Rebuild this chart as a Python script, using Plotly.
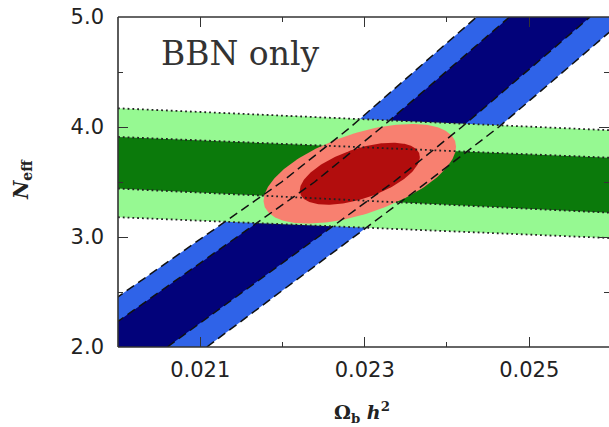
import numpy as np
import plotly.graph_objects as go

# ---------------- data ----------------
# BBN (D/H) band: omega_b of each edge at these N_eff levels
band_neff = [2.0, 3.0, 3.5, 4.0, 5.0]
blue_2s_left = [0.01913, 0.02103, 0.02199, 0.02283, 0.02436]
blue_1s_left = [0.01956, 0.02145, 0.02239, 0.02321, 0.02476]
blue_1s_right = [0.02060, 0.02243, 0.02335, 0.02418, 0.02574]
blue_2s_right = [0.02108, 0.02287, 0.02376, 0.02463, 0.02619]

# Helium band: N_eff of each edge at these omega_b values
green_omega = [0.020, 0.026]
green_2s_top = [4.17, 3.97]
green_1s_top = [3.91, 3.72]
green_1s_bot = [3.44, 3.22]
green_2s_bot = [3.18, 2.99]

# Joint constraint ellipse: centre, half extents (1 and 2 sigma), correlation
ell_center = [0.02294, 3.575]
ell_half_1s = [0.00073, 0.282]
ell_half_2s = [0.00117, 0.453]
ell_rho = 0.54

x_range = [0.020, 0.02597]
y_range = [2.0, 5.0]
x_ticks = [0.021, 0.023, 0.025]
y_ticks = [2.0, 3.0, 4.0, 5.0]

# ---------------- colours ----------------
NAVY = "#02027a"
LBLUE = "#2f63e8"
DGREEN = "#0b7a0b"
LGREEN = "#96f992"
SALMON = "#f88070"
DRED = "#b20d0d"

fig = go.Figure()


def band_v(left, right, color):
    xs = list(left) + list(right)[::-1]
    ys = list(band_neff) + list(band_neff)[::-1]
    fig.add_trace(go.Scatter(x=xs, y=ys, fill="toself", fillcolor=color,
                             mode="lines", line=dict(width=0), hoverinfo="skip",
                             showlegend=False))


def band_h(top, bot, color):
    xs = list(green_omega) + list(green_omega)[::-1]
    ys = list(top) + list(bot)[::-1]
    fig.add_trace(go.Scatter(x=xs, y=ys, fill="toself", fillcolor=color,
                             mode="lines", line=dict(width=0), hoverinfo="skip",
                             showlegend=False))


def ellipse(half, color):
    t = np.linspace(0, 2 * np.pi, 241)
    xs = ell_center[0] + half[0] * np.cos(t)
    ys = ell_center[1] + half[1] * (ell_rho * np.cos(t) + np.sqrt(1 - ell_rho ** 2) * np.sin(t))
    fig.add_trace(go.Scatter(x=xs, y=ys, fill="toself", fillcolor=color,
                             mode="lines", line=dict(width=0), hoverinfo="skip",
                             showlegend=False))


band_v(blue_2s_left, blue_2s_right, LBLUE)
band_v(blue_1s_left, blue_1s_right, NAVY)
band_h(green_2s_top, green_2s_bot, LGREEN)
band_h(green_1s_top, green_1s_bot, DGREEN)
ellipse(ell_half_2s, SALMON)
ellipse(ell_half_1s, DRED)

for edge in [blue_2s_left, blue_1s_left, blue_1s_right, blue_2s_right]:
    fig.add_trace(go.Scatter(x=edge, y=band_neff, mode="lines",
                             line=dict(color="#111", width=1.5, dash="9px,5px"),
                             hoverinfo="skip", showlegend=False))
for edge in [green_2s_top, green_1s_top, green_1s_bot, green_2s_bot]:
    fig.add_trace(go.Scatter(x=green_omega, y=edge, mode="lines",
                             line=dict(color="#222", width=1.8, dash="1.8px,3px"),
                             hoverinfo="skip", showlegend=False))

tickfont = dict(family="DejaVu Sans", size=21, color="#222")
fig.update_xaxes(range=x_range, tickvals=x_ticks, ticktext=[f"{v:.3f}" for v in x_ticks],
                 ticks="inside", ticklen=10, tickwidth=1.3, tickcolor="#333",
                 mirror="ticks", showline=False, showgrid=False, zeroline=False,
                 tickfont=tickfont, ticklabelstandoff=8,
                 minor=dict(tickvals=[0.022, 0.024], ticks="inside", ticklen=5,
                            tickwidth=1.2, tickcolor="#333"))
fig.update_yaxes(range=y_range, tickvals=y_ticks, ticktext=[f"{v:.1f}" for v in y_ticks],
                 ticks="inside", ticklen=10, tickwidth=1.3, tickcolor="#333",
                 mirror="ticks", showline=False, showgrid=False, zeroline=False,
                 tickfont=tickfont, ticklabelstandoff=13,
                 minor=dict(tickvals=[2.5, 3.5, 4.5], ticks="inside", ticklen=5,
                            tickwidth=1.2, tickcolor="#333"))

# frame (right edge lies outside the picture)
for x0, y0, x1, y1 in [(0, 0, 0, 1), (0, 0, 1, 0), (0, 1, 1, 1)]:
    fig.add_shape(type="line", xref="paper", yref="paper", x0=x0, y0=y0, x1=x1, y1=y1,
                  line=dict(color="#333", width=1.6), layer="above")

fig.add_annotation(text="BBN only", xref="paper", yref="paper", x=0.0845, y=0.89,
                   xanchor="left", yanchor="middle", showarrow=False,
                   font=dict(family="DejaVu Serif", size=33, color="#333"))
fig.add_annotation(text="<b>Ω<sub>b</sub> <i>h</i><sup>2</sup></b>", xref="paper", yref="paper",
                   x=0.497, y=-0.197, xanchor="center", yanchor="middle", showarrow=False,
                   font=dict(family="DejaVu Serif", size=19, color="#222"))
fig.add_annotation(text="<b><i>N</i><sub>eff</sub></b>", xref="paper", yref="paper",
                   x=-0.1955, y=0.506, xanchor="center", yanchor="middle", showarrow=False,
                   textangle=-90, font=dict(family="DejaVu Serif", size=20, color="#222"))

fig.update_layout(width=609, height=427, margin=dict(l=118, r=0, t=17, b=80),
                  plot_bgcolor="white", paper_bgcolor="white", showlegend=False)

fig.write_html("out.html")
